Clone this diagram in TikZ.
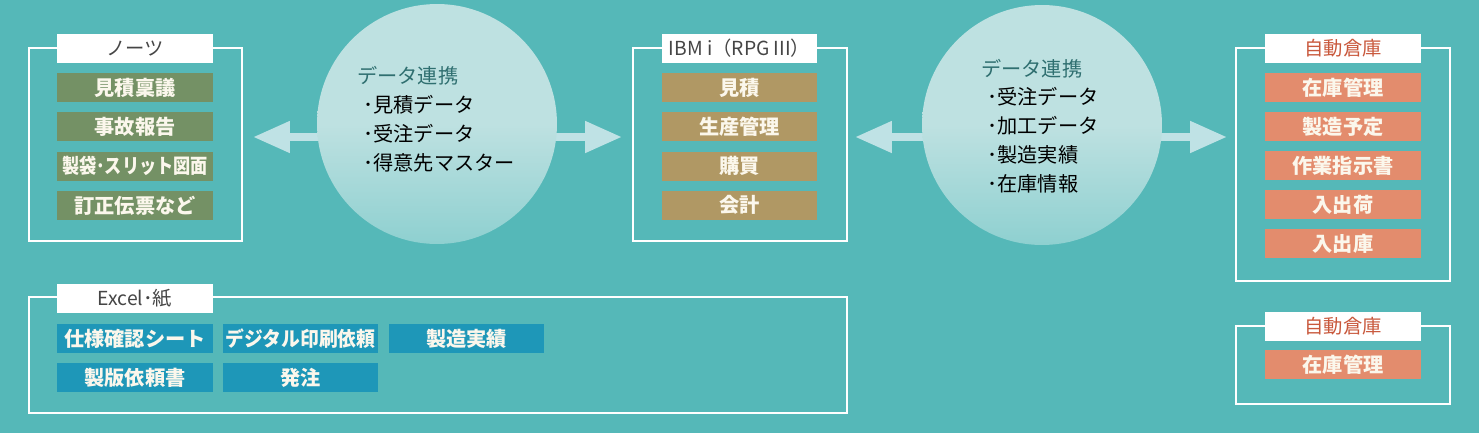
\documentclass[tikz,border=0pt]{standalone}
\usepackage{fontspec}
\setmainfont{Noto Sans CJK JP}
\usetikzlibrary{arrows.meta}

\definecolor{bg}{HTML}{55B8B8}
\definecolor{hubtop}{HTML}{BEE1E1}
\definecolor{hubbot}{HTML}{8ED0D0}
\definecolor{arrowc}{HTML}{BFE2E5}
\definecolor{notesc}{HTML}{749165}
\definecolor{ibmc}{HTML}{B09864}
\definecolor{asrsc}{HTML}{E38C6D}
\definecolor{excelc}{HTML}{1E97B8}
\definecolor{titlegray}{HTML}{454545}
\definecolor{titleorange}{HTML}{C9583C}
\definecolor{hubhead}{HTML}{2F6F70}
\definecolor{itemtext}{HTML}{FBF7EC}

\tikzset{
  frame/.style={draw=white, line width=0.6pt},
  titlebox/.style={fill=white, text=#1, minimum width=3.12cm, minimum height=0.58cm, inner sep=0pt},
  item/.style={fill=#1, text=itemtext, minimum width=3.12cm, minimum height=0.58cm, inner sep=0pt, font=\fontsize{11.5pt}{13pt}\selectfont\bfseries},
  hub/.style={circle, minimum size=4.8cm, inner sep=0pt, top color=hubtop, bottom color=hubbot, middle color=hubtop},
  link/.style={draw=arrowc, line width=4.5pt, {Triangle[length=21pt,width=17pt]}-{Triangle[length=21pt,width=17pt]}},
  hubtext/.style={anchor=west, inner sep=0pt, font=\fontsize{11.5pt}{13pt}\selectfont}
}

\begin{document}
\begin{tikzpicture}[x=0.02cm, y=-0.02cm, font=\fontsize{11pt}{13pt}\selectfont]
    % background
    \fill[bg] (0,0) rectangle (1479,433);
    \useasboundingbox (0,0) rectangle (1479,433);

    % frames
    \draw[frame] (29,48) rectangle (242,241);
    \draw[frame] (633,48) rectangle (847,241);
    \draw[frame] (1236,48) rectangle (1450,281);
    \draw[frame] (1236,326) rectangle (1450,404);
    \draw[frame] (29,297) rectangle (847,413);

    % links
    \coordinate (l1) at (253,137);
    \coordinate (r1) at (622,137);
    \coordinate (l2) at (855,137);
    \coordinate (r2) at (1227,137);
    \draw[link] (l1) -- (r1);
    \draw[link] (l2) -- (r2);

    % data hubs
    \node[hub] (hub1) at (437,124) {};
    \node[hub] (hub2) at (1042,125) {};
    \node[hubtext, text=hubhead] (hub1head) at (357,76) {データ連携};
    \foreach \t [count=\i] in {見積データ,受注データ,得意先マスター}
        \node[hubtext] (hub1item\i) at (363,76+\i*29) {･\t};
    \node[hubtext, text=hubhead] (hub2head) at (981,69) {データ連携};
    \foreach \t [count=\i] in {受注データ,加工データ,製造実績,在庫情報}
        \node[hubtext] (hub2item\i) at (987,68+\i*29) {･\t};

    % Notes
    \node[titlebox=titlegray] (notes) at (135,48.5) {ノーツ};
    \foreach \t [count=\i] in {見積稟議,事故報告,{\scalebox{0.85}[1]{製袋･スリット図面}},訂正伝票など}
        \node[item=notesc] (notes\i) at (135,48.5+\i*39.2) {\t};

    % IBM i
    \node[titlebox=titlegray] (ibm) at (739.5,48.5) {IBM i（RPG III）};
    \foreach \t [count=\i] in {見積,生産管理,購買,会計}
        \node[item=ibmc] (ibm\i) at (739.5,48.5+\i*39.2) {\t};

    % automated warehouse
    \node[titlebox=titleorange] (asrs) at (1343,48.5) {自動倉庫};
    \foreach \t [count=\i] in {在庫管理,製造予定,作業指示書,入出荷,入出庫}
        \node[item=asrsc] (asrs\i) at (1343,48.5+\i*39) {\t};
    \node[titlebox=titleorange] (asrsb) at (1343,326.5) {自動倉庫};
    \node[item=asrsc] (asrsb1) at (1343,364.5) {在庫管理};

    % Excel / paper
    \node[titlebox=titlegray] (excel) at (135,298.5) {Excel･紙};
    \node[item=excelc] (excel1) at (135,338.5) {仕様確認シート};
    \node[item=excelc] (excel2) at (300.5,338.5) {\scalebox{0.93}[1]{デジタル印刷依頼}};
    \node[item=excelc] (excel3) at (466.5,338.5) {製造実績};
    \node[item=excelc] (excel4) at (135,377.5) {製版依頼書};
    \node[item=excelc] (excel5) at (300.5,377.5) {発注};
\end{tikzpicture}
\end{document}
